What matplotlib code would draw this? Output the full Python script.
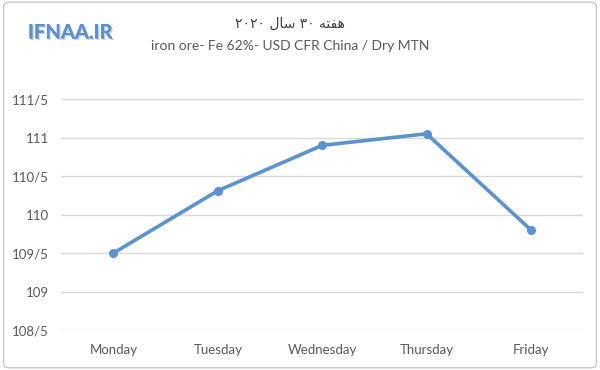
import matplotlib
matplotlib.use("Agg")
import matplotlib.pyplot as plt
import matplotlib.patheffects as pe
from matplotlib.patches import FancyBboxPatch

days = ["Monday", "Tuesday", "Wednesday", "Thursday", "Friday"]
prices = [109.5, 110.31, 110.9, 111.05, 109.8]
yticks = [108.5, 109, 109.5, 110, 110.5, 111, 111.5]
ytick_labels = ["108/5", "109", "109/5", "110", "110/5", "111", "111/5"]

# persian title, written in visual order with presentation forms (no shaping in mpl)
title_fa = "\u06f2\u06f0\u06f2\u06f0 \ufedd\ufe8e\ufeb3 \u06f3\u06f0 \ufeea\ufe98\ufed4\ufeeb"
title_en = "iron ore- Fe 62%- USD CFR China / Dry MTN"

plt.rcParams['font.family'] = ['Lato', 'DejaVu Sans']

fig = plt.figure(figsize=(6, 3.7), dpi=100)
ax = fig.add_axes([0.102, 0.108, 0.870, 0.624])

x = list(range(len(days)))
ax.plot(x, prices, color="#5b93cf", lw=2.6, marker="o", ms=5.5, zorder=3)

ax.set_xlim(-0.5, len(days) - 0.5)
ax.set_ylim(108.5, 111.5)
ax.set_xticks(x)
ax.set_xticklabels(days)
ax.set_yticks(yticks)
ax.set_yticklabels(ytick_labels)
ax.tick_params(length=0, labelsize=9.5, colors="#595959")
ax.tick_params(axis="y", pad=9)
ax.tick_params(axis="x", pad=10)
ax.grid(axis="y", color="#d9d9d9", lw=1)
ax.set_axisbelow(True)
for s in ax.spines.values():
    s.set_visible(False)

fig.text(0.483, 0.937, title_fa, ha="center", va="center", fontsize=10,
         color="#404040", family=["DejaVu Sans"])
fig.text(0.483, 0.875, title_en, ha="center", va="center", fontsize=10,
         color="#595959")

logo = fig.text(0.117, 0.912, "IFNAA.IR", ha="center", va="center",
                fontsize=14.5, fontweight="bold", color="#5b8fd0")
logo.set_path_effects([pe.withSimplePatchShadow(offset=(1, -1), shadow_rgbFace="#b8c8e0", alpha=0.9),
                       pe.Normal()])

border = FancyBboxPatch((0.006, 0.006), 0.988, 0.988, boxstyle="round,pad=0,rounding_size=0.01",
                        transform=fig.transFigure, fill=False, edgecolor="#c8c8c8", lw=1)
fig.patches.append(border)

fig.savefig("out.png", dpi=100)
